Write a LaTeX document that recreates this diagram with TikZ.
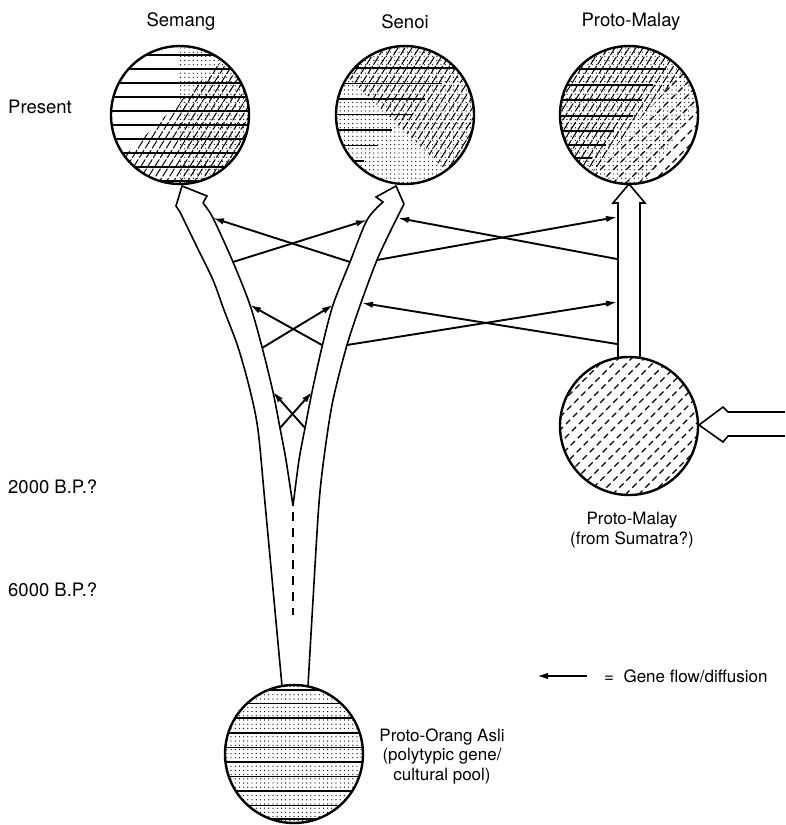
\documentclass[tikz,border=0pt]{standalone}
\usepackage{fontspec}
\setmainfont{TeX Gyre Heros}
\usetikzlibrary{arrows.meta,patterns}
\pgfdeclarepatternformonly{stip}{\pgfqpoint{-1pt}{-1pt}}{\pgfqpoint{1pt}{1pt}}{\pgfqpoint{4.2pt}{4.2pt}}{\pgfpathcircle{\pgfpointorigin}{0.65pt}\pgfusepath{fill}}
\begin{document}
\begin{tikzpicture}[x=1pt,y=-1pt,
  ring/.style={circle,draw,line width=2.4pt,minimum size=138pt,inner sep=0pt},
  band/.style={line width=1.6pt,line join=miter},
  flow/.style={line width=1.9pt,-{Latex[length=11pt,width=6.5pt]}},
  hline/.style={line width=1.3pt},
  hatchl/.style={line width=1pt,dash pattern=on 9pt off 2pt},
  dashl/.style={line width=1.1pt,dash pattern=on 6pt off 4pt},
  lbl/.style={font=\fontsize{17}{19.5}\selectfont,inner sep=0pt},
  big/.style={font=\fontsize{18.5}{21}\selectfont,inner sep=0pt}]
\useasboundingbox (0,0) rectangle (785,825);

% ---------- Semang texture ----------
\begin{scope}
  \clip (180,115) circle[radius=69];
  \begin{scope}
    \clip (178,40) rectangle (260,190);
    \fill[pattern=stip] (100,40) rectangle (260,190);
  \end{scope}
  \begin{scope}
    \clip (115,165) -- (235,48) -- (260,40) -- (260,195) -- (100,195) -- (100,175) -- cycle;
    \foreach \k in {-140,-133,...,140} \draw[hatchl] ({180+\k-50},195) -- ({180+\k+50},35);
  \end{scope}
  \foreach \yy in {55,69,...,181} \draw[hline] (100,\yy) -- (260,\yy);
\end{scope}
\node[ring] (semangC) at (180,115) {};

% ---------- Senoi texture ----------
\begin{scope}
  \clip (405,115) circle[radius=69];
  \fill[pattern=stip] (330,40) rectangle (480,190);
  \begin{scope}
    \clip (330,40) -- (330,60) -- (445,170) -- (480,170) -- (480,40) -- cycle;
    \foreach \k in {-140,-133,...,140} \draw[hatchl] ({405+\k-50},195) -- ({405+\k+50},35);
  \end{scope}
  \foreach \yy/\xe in {68/480,83.5/442,99/425,114.5/413,130/392,145.5/378,161/364}
    \draw[hline] (330,\yy) -- (\xe,\yy);
\end{scope}
\node[ring] (senoiC) at (405,115) {};

% ---------- Proto-Malay (top) texture ----------
\begin{scope}
  \clip (629,115) circle[radius=69];
  \begin{scope}
    \clip (550,40) -- (720,40) -- (720,70) -- (640,190) -- (550,190) -- cycle;
    \fill[pattern=stip] (550,40) rectangle (720,190);
  \end{scope}
  \begin{scope}
    \clip (550,40) -- (700,40) -- (700,52) -- (590,175) -- (590,190) -- (550,190) -- cycle;
    \foreach \k in {-140,-133,...,140} \draw[hatchl] ({629+\k-50},195) -- ({629+\k+50},35);
  \end{scope}
  \begin{scope}
    \clip (700,52) -- (720,52) -- (720,190) -- (590,190) -- (590,175) -- cycle;
    \foreach \k in {-169,-156,...,169} \draw[dashl] ({629+\k-90},{115+90}) -- ({629+\k+90},{115-90});
  \end{scope}
  \foreach \yy/\xe in {69/666,85/653,100/642,116/633,131/614,145/606,158/592}
    \draw[hline] (550,\yy) -- (\xe,\yy);
\end{scope}
\node[ring] (pmC) at (629,115) {};

% ---------- Proto-Malay (lower) texture ----------
\begin{scope}
  \clip (629,426) circle[radius=69];
  \foreach \k in {-169,-156,...,169} \draw[dashl] ({629+\k-90},{426+90}) -- ({629+\k+90},{426-90});
\end{scope}
\node[ring] (pmlowC) at (629,426) {};

% ---------- Proto-Orang Asli texture ----------
\begin{scope}
  \clip (294,754) circle[radius=69];
  \fill[pattern=stip] (220,680) rectangle (370,830);
  \foreach \yy in {690,703.5,718,733,747.5,762,776.5,791,805.5,819}
    \draw[hline] (220,\yy) -- (370,\yy);
\end{scope}
\node[ring] (poaC) at (294,754) {};

% ---------- branching bands ----------
\draw[band] plot[smooth] coordinates {(282,686) (274,600) (265,503) (258,430) (250,390) (238,347) (224,310) (213,280) (196,245) (180,212)}
  -- (176,206) -- (182,186) -- (207,196) -- (203,203);
\draw[band] plot[smooth] coordinates {(293,506) (286,460) (280,428) (273,392) (262,347) (250,305) (233,262) (213,218) (203,203)};
\draw[band] plot[smooth] coordinates {(293,506) (299,460) (305,428) (312,392) (322,347) (333,305) (350,262) (367,220) (383,202)}
  -- (376,197) -- (396,186) -- (404,204);
\draw[band] plot[smooth] coordinates {(308,686) (313,600) (319,503) (325,450) (333,400) (347,345) (362,300) (377,260) (390,232) (404,204)};
\draw[band,dash pattern=on 9pt off 7pt] (293,512) -- (293,615);

% Proto-Malay vertical arrow
\draw[band] (618,358) -- (618,203) -- (613,203) -- (629,184) -- (645,203) -- (640,203) -- (640,358);
% arrow from the right
\draw[band] (785,412) -- (728,412) -- (723,407) -- (699,425) -- (723,442) -- (728,436) -- (785,436);

% ---------- gene flow arrows ----------
\coordinate (a1s) at (233,262); \coordinate (a1e) at (367,220);
\coordinate (b1s) at (350,262); \coordinate (b1e) at (213,218);
\coordinate (a2s) at (377,260); \coordinate (a2e) at (617,217);
\coordinate (b2s) at (617,259); \coordinate (b2e) at (398,218);
\coordinate (a3s) at (262,348); \coordinate (a3e) at (333,305);
\coordinate (b3s) at (322,345); \coordinate (b3e) at (250,305);
\coordinate (a4s) at (347,345); \coordinate (a4e) at (617,302);
\coordinate (b4s) at (617,344); \coordinate (b4e) at (362,303);
\coordinate (a5s) at (280,428); \coordinate (a5e) at (312,392);
\coordinate (b5s) at (305,428); \coordinate (b5e) at (273,392);
\foreach \p in {1,...,5} {
  \draw[flow] (a\p s) -- (a\p e);
  \draw[flow] (b\p s) -- (b\p e);
}

% ---------- labels ----------
\node[big] (tSemang) at (181,22) {Semang};
\node[big] (tSenoi) at (405,22) {Senoi};
\node[big] (tPM) at (631,22) {Proto-Malay};
\node[big,anchor=west] (tPresent) at (8,107) {Present};
\node[big,anchor=west] (t2000) at (8,487) {2000 B.P.?};
\node[big,anchor=west] (t6000) at (8,590) {6000 B.P.?};
\node[lbl,align=center] (tPMlow) at (632,530) {Proto-Malay\\(from Sumatra?)};
\coordinate (legR) at (587,676); \coordinate (legL) at (537,676);
\draw[flow] (legR) -- (legL);
\node[lbl,anchor=west] (tLegend) at (604,676) {=\ \ Gene flow/diffusion};
\node[lbl,align=center] (tPOA) at (442,756) {Proto-Orang Asli\\(polytypic gene/\\cultural pool)};
\end{tikzpicture}
\end{document}
